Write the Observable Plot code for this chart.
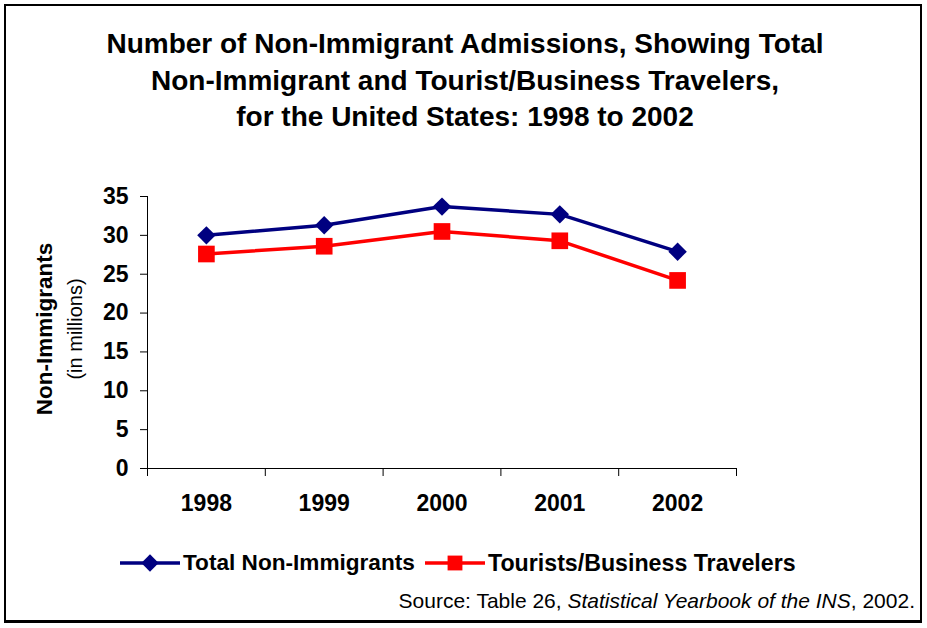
<!DOCTYPE html>
<html>
<head>
<meta charset="utf-8">
<script src="https://cdn.jsdelivr.net/npm/d3@7"></script>
<script src="https://cdn.jsdelivr.net/npm/@observablehq/plot@0.6"></script>
<style>
  html, body { margin: 0; padding: 0; background: #fff; }
  body { font-family: "Liberation Sans", Arial, sans-serif; }
  #wrap { position: relative; width: 927px; height: 628px; overflow: hidden; }
  #border { position: absolute; left: 4px; top: 4px; width: 914px; height: 614px; border: 2px solid #000; border-bottom-width: 3px; }
  #title { position: absolute; left: 0; top: 26px; width: 930px; text-align: center; font-weight: bold; font-size: 28px; line-height: 36.5px; color: #000; }
  #chart { position: absolute; left: 0; top: 170px; }
  .ylab { position: absolute; white-space: nowrap; transform: translate(-50%, -50%) rotate(-90deg); color: #000; }
  #legend { position: absolute; left: 0; top: 548px; width: 927px; height: 30px; }
  .lg { position: absolute; top: 0; display: flex; align-items: center; font-weight: bold; font-size: 22.6px; white-space: nowrap; }
  #source { position: absolute; right: 12px; top: 589px; font-size: 21px; white-space: nowrap; }
</style>
</head>
<body>
<div id="wrap">
  <div id="border"></div>
  <div id="title">Number of Non-Immigrant Admissions, Showing Total<br>Non-Immigrant and Tourist/Business Travelers,<br>for the United States: 1998 to 2002</div>
  <div id="chart"></div>
  <div class="ylab" style="left:45px; top:329px; font-weight:bold; font-size:22.5px;">Non-Immigrants</div>
  <div class="ylab" style="left:75px; top:329px; font-size:20px;">(in millions)</div>
  <div id="legend"></div>
  <div id="source">Source: Table 26, <i>Statistical Yearbook of the INS</i>, 2002.</div>
</div>
<script>
const years = [1998, 1999, 2000, 2001, 2002];
const totalNonImmigrants = [30.0, 31.3, 33.7, 32.7, 27.9];
const touristsBusiness = [27.6, 28.6, 30.5, 29.3, 24.2];
const yTicks = [0, 5, 10, 15, 20, 25, 30, 35];
const seriesNames = ["Total Non-Immigrants", "Tourists/Business Travelers"];
const seriesColors = ["#000080", "#ff0000"];

const totalData = years.map((y, i) => ({year: y, value: totalNonImmigrants[i]}));
const touristData = years.map((y, i) => ({year: y, value: touristsBusiness[i]}));
const xDomain = [years[0] - 0.5, years[years.length - 1] + 0.5];
const boundaries = years.map(y => y - 0.5).concat([years[years.length - 1] + 0.5]);

const chart = Plot.plot({
  width: 927,
  height: 348,
  marginLeft: 147,
  marginRight: 191,
  marginTop: 26,
  marginBottom: 50,
  style: {fontFamily: "Liberation Sans, Arial, sans-serif", color: "#000", background: "transparent"},
  x: {type: "linear", domain: xDomain, axis: null},
  y: {domain: [0, 35], axis: null},
  marks: [
    Plot.axisY({ticks: yTicks, tickSize: 7, tickPadding: 12, fontSize: 23, fontWeight: "bold", label: null, stroke: "#000", strokeWidth: 1}),
    Plot.axisX({ticks: boundaries, tickSize: 8, tickFormat: () => "", label: null, strokeWidth: 1}),
    Plot.axisX({ticks: years, tickSize: 0, tickPadding: 26, tickFormat: d => String(d), fontSize: 23, fontWeight: "bold", label: null}),
    Plot.ruleX([xDomain[0]], {stroke: "#000", strokeWidth: 1}),
    Plot.ruleY([0], {stroke: "#000", strokeWidth: 1}),
    Plot.line(totalData, {x: "year", y: "value", stroke: seriesColors[0], strokeWidth: 3.5}),
    Plot.line(touristData, {x: "year", y: "value", stroke: seriesColors[1], strokeWidth: 3.5}),
    Plot.dot(totalData, {x: "year", y: "value", symbol: "diamond2", r: 8.3, fill: seriesColors[0], stroke: "none"}),
    Plot.dot(touristData, {x: "year", y: "value", symbol: "square", r: 9.4, fill: seriesColors[1], stroke: "none"})
  ]
});
document.getElementById("chart").appendChild(chart);

// legend
const legend = document.getElementById("legend");
const legendX = [120, 425];
const legendFont = [22.6, 23.2];
seriesNames.forEach((name, i) => {
  const item = document.createElement("div");
  item.className = "lg";
  item.style.left = legendX[i] + "px";
  item.style.fontSize = legendFont[i] + "px";
  const ns = "http://www.w3.org/2000/svg";
  const svg = document.createElementNS(ns, "svg");
  svg.setAttribute("width", 60);
  svg.setAttribute("height", 30);
  const line = document.createElementNS(ns, "line");
  line.setAttribute("x1", 0); line.setAttribute("x2", 60);
  line.setAttribute("y1", 15); line.setAttribute("y2", 15);
  line.setAttribute("stroke", seriesColors[i]); line.setAttribute("stroke-width", 3.5);
  svg.appendChild(line);
  const m = document.createElementNS(ns, "path");
  const sym = i === 0 ? d3.symbol(d3.symbolDiamond2, 190) : d3.symbol(d3.symbolSquare, 220);
  m.setAttribute("d", sym());
  m.setAttribute("transform", "translate(30,15)");
  m.setAttribute("fill", seriesColors[i]);
  svg.appendChild(m);
  item.appendChild(svg);
  const t = document.createElement("span");
  t.textContent = name;
  t.style.marginLeft = "3px";
  item.appendChild(t);
  legend.appendChild(item);
});
</script>
</body>
</html>
